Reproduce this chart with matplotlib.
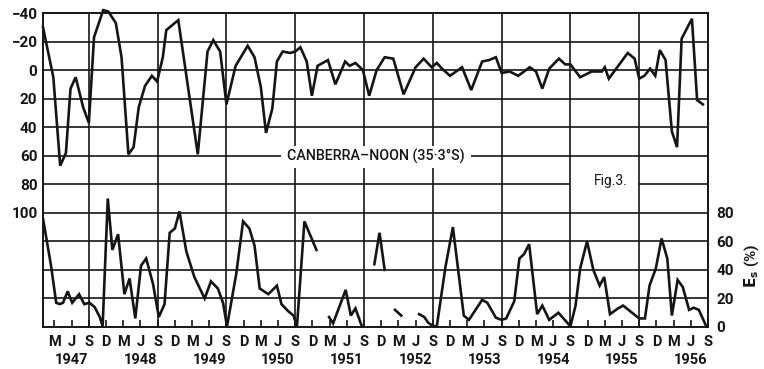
import matplotlib
matplotlib.use("Agg")
import matplotlib.pyplot as plt
from matplotlib.patches import Rectangle
import numpy as np

# ---------------- data (months since Jan 1947) ----------------
top_month = [0, 1.8, 3.0, 4.0, 4.8, 5.7, 7.0, 8.0, 8.9, 10.5, 11.4, 12.7, 13.7, 14.9, 15.8,
             16.7, 17.8, 19.0, 19.9, 20.9, 21.5, 23.6, 27.0, 28.7, 29.7, 30.9, 32.0, 33.6,
             35.7, 36.9, 38.0, 38.9, 40.0, 40.8, 41.8, 43.1, 44.0, 44.9, 46.0, 46.9, 47.9,
             49.7, 51.0, 52.7, 53.5, 54.5, 55.8, 56.9, 58.2, 59.6, 61.1, 62.9, 65.0, 66.4,
             67.8, 68.7, 69.6, 71.0, 73.1, 74.7, 76.6, 77.8, 79.0, 80.0, 81.4, 82.9, 84.9,
             86.0, 87.1, 88.3, 90.0, 91.1, 92.0, 93.7, 95.7, 97.5, 98.0, 98.7, 102.0, 103.2,
             104.0, 104.9, 105.9, 106.8, 107.6, 108.6, 109.7, 110.6, 111.4, 113.2, 114.1, 115.1]
top_value = [-30, 5, 67, 58, 13, 5, 26, 37, -23, -42, -41, -33, -9, 59, 54,
             26, 11, 4, 8, -9, -28, -35, 59, -13, -21, -13, 24, -3,
             -17, -9, 12, 44, 27, -6, -13, -12, -13, -16, -6, 18, -3,
             -7, 10, -6, -3, -5, 0, 18, 0, -9, -8, 17, -2, -8,
             -2, -5, -1, 4, -2, 14, -6, -7, -9, 2, 1, 4, -2,
             1, 13, -1, -8, -4, -4, 5, 1, 1, -2, 6, -12, -8,
             6, 4, -1, 4, -14, -7, 43, 54, -22, -36, 21, 24]

nan = np.nan
es_month = [0, 1.4, 2.3, 2.9, 3.5, 4.3, 5.1, 6.3, 7.2, 8.1, 9.0, 9.9, 10.4, 11.3, 12.1, 13.1,
            14.2, 15.1, 16.1, 17.1, 18.0, 19.2, 20.2, 21.2, 22.1, 23.0, 23.8, 25.0, 26.4,
            28.2, 29.3, 30.5, 31.4, 32.1, 33.7, 34.9, 36.0, 36.9, 37.8, 39.3, 40.8, 41.6,
            42.8, 43.7, 44.3, 45.6, 47.7, nan,
            49.9, 50.6, 52.8, 53.7, 54.5, 55.6, nan,
            57.8, 58.7, 59.6, nan,
            61.4, 62.5, nan,
            65.6, 66.5, 67.2, 68.1, 68.7, 70.2, 71.5, 73.4, 74.3, 76.6, 77.5, 79.0, 80.0,
            80.8, 82.2, 83.1, 83.9, 84.8, 86.2, 87.1, 88.3, 89.9, 92.0, 92.9, 93.7, 94.9,
            96.0, 97.1, 97.9, 98.9, 100.3, 101.2, 104.0, 105.0, 105.8, 106.9, 107.9, 108.9,
            109.7, 110.7, 111.6, 112.7, 113.5, 114.4, 115.7]
es_value = [76, 43, 17, 16, 17, 25, 17, 23, 16, 17, 14, 7, 0.5, 90, 54, 65,
            23, 34, 6, 43, 48, 30, 7, 16, 66, 69, 81, 53, 35,
            20, 32, 27, 17, 0.5, 37, 74, 69, 57, 27, 23, 29, 16,
            11, 8, 0.5, 74, 54, nan,
            7, 2.5, 26, 8, 13, 0.7, nan,
            44, 66, 40, nan,
            12, 8, nan,
            9, 7, 3, 0.5, 0.7, 42, 70, 8, 5, 19, 17, 6.5, 5,
            6, 18, 48, 51, 58, 9, 15, 5, 10, 0.5, 15, 41, 60,
            40, 29, 35, 9, 13, 15, 6, 6, 29, 41, 62, 48,
            8, 33, 28, 12, 13.5, 12, 0.5]

quarter_months = list(range(2, 117, 3))
quarter_labels = ['M', 'J', 'S', 'D']
years = list(range(1947, 1957))
left_ticks = [-40, -20, 0, 20, 40, 60, 80, 100]
right_ticks = [0, 20, 40, 60, 80]
sept_months = list(range(8, 116, 12))

# ---------------- figure ----------------
INK = '#151515'
plt.rcParams['font.family'] = ['Roboto', 'DejaVu Sans']

fig = plt.figure(figsize=(7.64, 3.69), dpi=100)
W, H = 764, 369
ax = fig.add_axes([43 / W, 42 / H, 665 / W, 314 / H])
ax.set_xlim(0, 116)
ax.set_ylim(180, -40)
for s in ax.spines.values():
    s.set_linewidth(1.4)
    s.set_color(INK)

# grid
for m in sept_months:
    ax.axvline(m, color=INK, lw=1.2, zorder=1)
for v in range(-20, 180, 20):
    if v == 80:
        ax.hlines([v, v], [0, 104], [92, 116], color=INK, lw=1.2, zorder=1)
    else:
        ax.axhline(v, color=INK, lw=1.2, zorder=1)

# curves
ax.plot(top_month, top_value, color=INK, lw=1.9, zorder=4, clip_on=False,
        solid_joinstyle='miter')
ax2 = ax.twinx()
ax2.set_ylim(0, 220)
ax2.plot(es_month, es_value, color=INK, lw=1.9, zorder=4, solid_joinstyle='miter')

# labels
ax.add_patch(Rectangle((41.5, 53), 33.1, 15.5, facecolor='white', edgecolor='none', zorder=3))
ax.text(58.0, 60.5, 'CANBERRA\u2013NOON (35\u00b73\u00b0S)', ha='center', va='center',
        fontsize=10.3, fontweight='medium', color=INK, zorder=5)
ax2.text(99.0, 102, 'Fig.3.', ha='center', va='center', fontsize=10, color=INK, zorder=5)

# x ticks
ax.set_xticks(quarter_months)
ax.set_xticklabels([quarter_labels[i % 4] for i in range(len(quarter_months))],
                   fontsize=10.5, fontweight='bold', color=INK)
ax.tick_params(axis='x', direction='in', length=5, width=1.2, pad=6, colors=INK)
for i, y in enumerate(years):
    ax.text(12 * i + 5.0, -0.105, str(y), transform=ax.get_xaxis_transform(),
            ha='center', va='center', fontsize=10.5, fontweight='bold', color=INK)

# y ticks
ax.set_yticks(left_ticks)
ax.set_yticklabels([str(t).replace('-', '\u2212') for t in left_ticks],
                   fontsize=11, fontweight='bold', color=INK)
ax.tick_params(axis='y', length=0, pad=4)
ax2.set_yticks(right_ticks)
ax2.set_yticklabels([str(t) for t in right_ticks], fontsize=11, fontweight='bold', color=INK)
ax2.tick_params(axis='y', length=0, pad=6)
for s in ax2.spines.values():
    s.set_visible(False)

fig.text(752 / W, 1 - 266 / H, r'$\mathbf{E_s}$ (%)', rotation=90, ha='center', va='center',
         fontsize=11, fontweight='bold', color=INK)

fig.savefig('out.png', dpi=100)
